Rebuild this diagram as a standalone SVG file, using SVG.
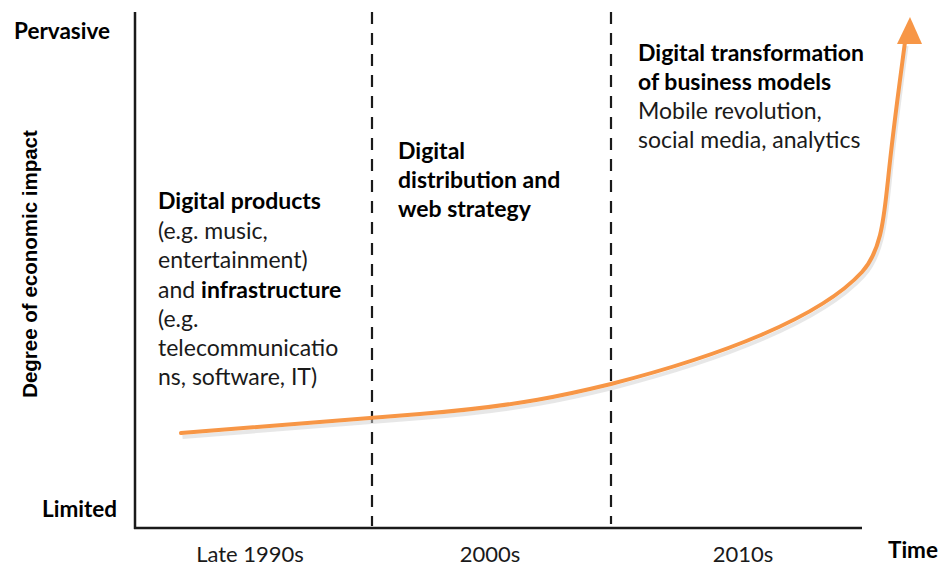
<svg xmlns="http://www.w3.org/2000/svg" width="939" height="569" viewBox="0 0 939 569">
<style>
.ax{font-family:Lato,"Open Sans",sans-serif;font-weight:bold;font-size:22.5px;fill:#000}
.ay{font-family:"Liberation Sans",Arial,sans-serif;font-weight:bold;font-size:20.5px;fill:#000}
.t{font-family:Lato,"Open Sans",sans-serif;font-size:23px;fill:#1a1a1a}
.b{font-weight:bold;fill:#000}
.tick{font-family:Lato,"Open Sans",sans-serif;font-size:22px;fill:#1a1a1a;text-anchor:middle}
.dash{stroke:#1a1a1a;stroke-width:2.2;stroke-dasharray:12,9;fill:none}
</style>
<rect width="939" height="569" fill="#fff"/>
<g id="axes">
<line x1="135" y1="12" x2="135" y2="529" stroke="#1a1a1a" stroke-width="2.5"/>
<line x1="134" y1="528" x2="862" y2="528" stroke="#1a1a1a" stroke-width="2.5"/>
<text class="ax" x="14" y="39">Pervasive</text>
<text class="ax" x="42" y="517">Limited</text>
<text class="ay" transform="translate(37,264) rotate(-90)" text-anchor="middle">Degree of economic impact</text>
<text class="ax" x="888" y="558">Time</text>
<text class="tick" x="250" y="562">Late 1990s</text>
<text class="tick" x="490" y="562">2000s</text>
<text class="tick" x="743" y="562">2010s</text>
</g>
<g id="dividers">
<line class="dash" x1="372" y1="12" x2="372" y2="526"/>
<line class="dash" x1="611" y1="12" x2="611" y2="524"/>
</g>
<g id="connectors">
<path d="M181,435 C300,426 372,420 420,416 C520,408 570,396 611,386 C720,358 820,320 862,274 C882,252 884,217 888,182 C893,132 900,82 905,44" fill="none" stroke="#d0d0d0" stroke-width="4" transform="translate(1.5,2)" opacity="0.5"/>
<path d="M181,433 C300,424 372,418 420,414 C520,406 570,394 611,384 C720,356 820,318 862,272 C882,250 884,215 888,180 C893,130 900,80 905,42" fill="none" stroke="#F79646" stroke-width="4" stroke-linecap="round"/>
<polygon points="910,17 897,44 922,44" fill="#F79646"/>
</g>
<g id="era1">
<text class="t" x="158" y="209"><tspan class="b">Digital products</tspan></text>
<text class="t" x="158" y="239">(e.g. music,</text>
<text class="t" x="158" y="268">entertainment)</text>
<text class="t" x="158" y="298">and <tspan class="b">infrastructure</tspan></text>
<text class="t" x="158" y="327">(e.g.</text>
<text class="t" x="158" y="356">telecommunicatio</text>
<text class="t" x="158" y="385">ns, software, IT)</text>
</g>
<g id="era2">
<text class="t b" x="398" y="159">Digital</text>
<text class="t b" x="398" y="188">distribution and</text>
<text class="t b" x="398" y="217">web strategy</text>
</g>
<g id="era3">
<text class="t b" x="638" y="61">Digital transformation</text>
<text class="t b" x="638" y="90">of business models</text>
<text class="t" x="638" y="119">Mobile revolution,</text>
<text class="t" x="638" y="148">social media, analytics</text>
</g>
</svg>
